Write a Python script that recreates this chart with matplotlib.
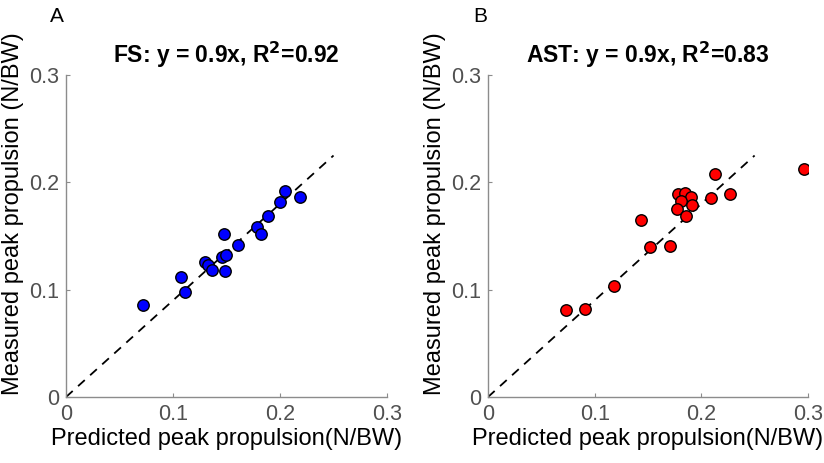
import numpy as np
import matplotlib
matplotlib.use("Agg")
import matplotlib.pyplot as plt

plt.rcParams['font.family'] = ['Liberation Sans', 'DejaVu Sans']

# FS panel (predicted, measured)
fs_pred = [0.0716, 0.1075, 0.111, 0.130, 0.133, 0.136, 0.1455, 0.1495, 0.1486,
           0.148, 0.161, 0.1785, 0.182, 0.1888, 0.2003, 0.2044, 0.2184]
fs_meas = [0.086, 0.112, 0.098, 0.1255, 0.123, 0.118, 0.1305, 0.1327, 0.117,
           0.152, 0.142, 0.158, 0.152, 0.169, 0.182, 0.192, 0.1866]

# AST panel
ast_pred = [0.0729, 0.0913, 0.1184, 0.1439, 0.152, 0.171, 0.1778, 0.185, 0.190,
            0.181, 0.191, 0.177, 0.1857, 0.209, 0.2128, 0.2271, 0.2966]
ast_meas = [0.0813, 0.082, 0.1031, 0.165, 0.140, 0.1408, 0.1888, 0.190, 0.1866,
            0.1825, 0.1785, 0.1748, 0.1685, 0.1855, 0.208, 0.1888, 0.2128]

ticks = [0, 0.1, 0.2, 0.3]
tick_labels = ['0', '0.1', '0.2', '0.3']
slope = 0.9
fit_x = [0, 0.25]

panels = [
    ('A', 'FS: y = 0.9x, R$^\\mathbf{2}$=0.92', fs_pred, fs_meas, 'blue', [0.0801, 0.1425, 0.3896, 0.6955], 57),
    ('B', 'AST: y = 0.9x, R$^\\mathbf{2}$=0.83', ast_pred, ast_meas, 'red', [0.5922, 0.1425, 0.3883, 0.6955], 480),
]

fig = plt.figure(figsize=(8.24, 4.63), dpi=100)

for letter, title, px, py, col, rect, lx in panels:
    ax = fig.add_axes(rect)
    ax.plot(fit_x, [slope * v for v in fit_x], '--', color='black', lw=1.3, dashes=(5, 4), zorder=1)
    ax.scatter(px, py, s=68, c=col, edgecolors='black', linewidths=1.0, zorder=3)
    ax.set_xlim(0, 0.3)
    ax.set_ylim(0, 0.3)
    ax.set_xticks(ticks)
    ax.set_xticklabels(tick_labels)
    ax.set_yticks(ticks)
    ax.set_yticklabels(tick_labels)
    for s in ['top', 'right']:
        ax.spines[s].set_visible(False)
    for s in ['left', 'bottom']:
        ax.spines[s].set_color('#8c8c8c')
        ax.spines[s].set_linewidth(1.0)
    ax.tick_params(direction='in', length=3, color='#8c8c8c', labelcolor='#505050',
                   labelsize=15.5, pad=5)
    ax.set_xlabel('Predicted peak propulsion(N/BW)', fontsize=17, labelpad=2)
    ax.set_ylabel('Measured peak propulsion (N/BW)', fontsize=17)
    ax.yaxis.set_label_coords(-0.13, 0.57)
    ax.set_title(title, fontsize=16.5, fontweight='bold', pad=9)
    fig.text(lx / 824, 1 - 17 / 463, letter, fontsize=15, ha='center', va='center')

fig.savefig('out.png', dpi=100)
